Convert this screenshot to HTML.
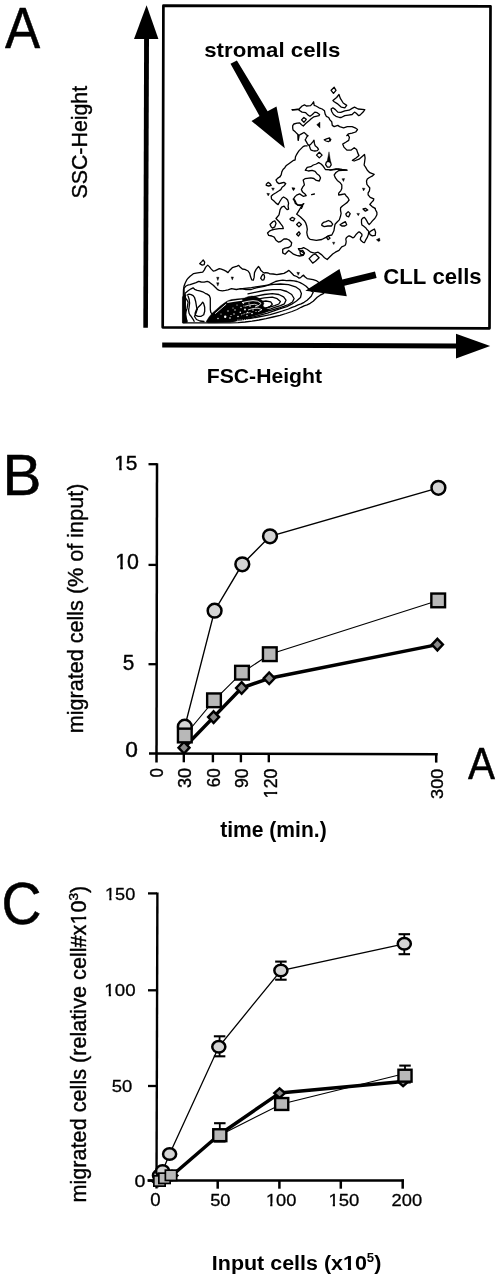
<!DOCTYPE html>
<html><head><meta charset="utf-8"><title>Figure</title>
<style>
html,body{margin:0;padding:0;background:#fff;}
body{width:496px;height:1280px;overflow:hidden;}
svg{display:block;}
text{font-family:"Liberation Sans", Arial, Helvetica, sans-serif;fill:#000;font-kerning:none;}
</style></head><body>
<svg width="496" height="1280" viewBox="0 0 496 1280">
<rect width="496" height="1280" fill="#fff"/>
<g id="contours"><g fill="#000" stroke="#000" stroke-width="0.4" stroke-linejoin="round"><polygon points="316.7,124.7 320.0,122.0 320.0,128.1"/><polygon points="327.0,161.9 329.0,151.8 330.7,161.9"/><polygon points="341.9,178.8 344.6,178.5 343.5,181.5"/><polygon points="362.4,188.0 365.1,188.4 363.5,190.9"/><polygon points="329.1,138.7 331.3,139.1 330.2,141.4"/><polygon points="291.9,187.7 294.7,188.0 293.3,190.4"/><polygon points="271.6,187.9 274.4,188.2 273.0,190.6"/><polygon points="266.8,193.3 269.6,193.6 268.2,196.0"/><polygon points="292.2,187.9 295.0,188.2 293.6,190.6"/><polygon points="356.8,213.4 359.5,213.4 358.3,215.8"/><polygon points="376.3,239.7 379.5,238.1 380.1,240.8 378.5,241.6"/><polygon points="332.5,242.2 334.9,242.2 333.7,244.6"/><polygon points="206.0,321.8 209.0,317.0 212.1,313.2 216.1,309.7 220.2,306.1 224.2,303.1 227.2,301.1 231.3,299.6 235.3,299.1 240.3,298.6 244.4,298.1 248.4,296.6 252.0,296.0 256.0,296.8 259.0,298.2 262.0,300.3 264.0,303.0 263.0,306.0 266.0,308.5 269.0,310.5 264.0,313.0 258.0,314.8 250.0,317.2 244.0,319.0 238.0,320.8 230.0,322.2 215.0,322.8 208.0,322.8"/><polygon points="182.4,297.0 184.6,294.5 185.6,300.0 185.2,308.0 185.8,315.0 187.2,322.6 182.4,322.9"/><polygon points="216.6,277.2 219.0,277.3 217.8,280.6"/><polygon points="216.6,282.7 219.0,282.8 217.8,286.1"/><polygon points="231.1,276.9 233.5,277.0 232.3,280.1"/><polygon points="296.8,272.3 299.6,272.6 298.2,275.3"/></g><g fill="none" stroke="#000" stroke-width="1.3" stroke-linejoin="round" stroke-linecap="round"><polyline points="292.4,110.0 299.1,109.0 302.1,106.0 304.5,104.8 306.3,106.0 310.6,105.6 312.4,103.6 313.6,101.8 314.2,105.4 316.0,106.0 319.0,107.8 322.1,109.0 324.5,110.8 325.1,113.9 326.3,116.3 328.7,117.5 329.9,119.9 331.7,121.7 332.3,125.4 334.2,126.6 337.8,125.4 339.6,126.6 343.6,127.8 347.3,126.6 352.1,126.6 355.1,127.8 357.5,129.6 355.7,132.0 352.1,133.2 348.5,133.8 346.7,135.6 348.1,135.0 349.4,137.4 348.7,140.4 345.7,142.3 342.7,144.1 343.9,147.1 346.9,150.1 351.2,150.1 354.2,147.7 356.6,149.5 357.8,153.1 359.0,155.6 356.0,158.0 352.4,160.4 354.2,161.0 359.0,159.2 364.5,154.4 365.1,158.0 364.6,162.0 364.1,165.0 365.7,167.4 367.3,170.2 369.8,172.7 374.2,174.3 372.6,175.9 369.4,177.5 367.3,179.1 366.5,181.1 366.9,184.4 368.5,186.4 369.8,188.0 369.4,190.8 368.1,192.8 368.1,194.8 370.2,197.3 373.8,198.9 373.4,200.5 371.8,202.1 369.8,204.5 372.1,206.6 375.1,208.4"/><polyline points="292.0,109.6 299.1,109.6"/><polyline points="299.1,110.2 302.1,112.1 305.7,112.7 308.1,115.1 310.0,116.3 312.4,114.5 314.8,112.1 317.2,112.7 319.6,114.5 319.0,115.7 316.0,116.3 313.6,116.9 311.2,118.7 308.7,121.1 305.7,123.5 303.3,126.0 301.5,124.8 299.7,122.9 297.1,123.2 293.9,124.0 292.7,125.6 292.7,128.1 293.1,130.1 295.5,132.1 297.9,134.5 298.3,140.2 299.1,135.3 301.1,134.1 304.0,132.5 305.6,133.7 306.4,134.9 308.0,135.7 306.8,136.9 306.0,138.5 305.2,139.8 306.4,141.8 307.2,143.4 308.0,144.6 309.2,145.4"/><polyline points="298.3,134.8 298.3,140.2"/><polygon points="301.5,119.9 303.9,117.5 306.3,119.3 303.9,122.3"/><polygon points="331.1,90.3 334.2,87.3 336.0,90.3 333.5,93.3"/><polygon points="332.9,100.6 336.6,97.5 339.0,94.5 340.2,98.1 343.2,103.0 346.7,105.4 344.8,107.8 341.4,107.2 337.2,103.6 334.2,101.8"/><polygon points="331.1,109.0 332.9,107.8 335.4,109.6 337.8,112.1 340.8,112.4 344.8,110.8 349.1,110.2 352.1,108.4 354.5,107.2 358.1,109.0 364.8,109.6 363.6,111.5 360.0,115.1 358.7,115.7 356.3,113.3 354.5,112.1 352.1,114.5 348.5,115.1 344.8,115.7 341.2,117.5 339.6,117.5 336.0,116.3 333.5,114.5 331.7,111.5"/><polygon points="309.2,145.4 310.8,144.2 312.8,141.8 314.0,140.2 314.4,143.4 315.2,145.8 317.3,147.4 318.5,149.4 317.3,150.6 314.8,151.0 312.8,150.6 311.2,150.2 310.4,149.0 309.6,146.6"/><polyline points="307.2,145.8 304.8,145.8 303.1,146.6 301.1,148.6 299.1,150.6 297.9,152.3 296.7,154.3 295.5,156.7 295.1,160.0 293.3,160.4 290.9,162.2 288.5,164.0 286.0,165.8 284.8,167.7 283.0,169.5 281.8,171.9 281.2,174.9 280.0,176.7"/><polygon points="316.5,155.1 319.3,152.3 322.1,155.1 319.3,157.9"/><polyline points="305.4,170.1 307.2,167.4 310.8,166.7 313.3,165.0 316.3,164.0 318.7,162.6 321.1,164.0 322.9,165.8 324.2,167.7 325.4,169.5 330.8,169.8 336.2,168.9 340.0,169.6 346.9,170.1"/><polyline points="330.0,170.1 334.8,169.5 338.5,168.9 342.1,169.5 346.9,170.1 338.5,170.7 336.0,172.5 334.2,174.9 335.4,177.9 337.3,180.4 339.9,182.4 341.8,184.8 341.8,188.5 340.9,190.6 338.7,193.1 338.7,195.1 341.7,194.5 344.8,193.9 346.0,195.7 347.8,197.5 349.1,200.0 347.3,202.4 344.8,204.2 342.4,206.0 340.6,207.8 340.5,210.2 341.1,213.3 340.5,216.3 339.3,219.9 336.9,222.3 335.1,224.2 334.5,227.2 333.9,230.8 332.7,233.2 331.8,235.0 328.1,235.9 325.4,237.7 321.8,239.5 316.3,240.4 313.3,239.9 310.3,239.4 308.3,237.8 307.3,235.3 306.8,232.3 307.3,229.3 306.8,226.3 305.8,223.2 304.3,220.7 302.3,218.7 300.2,216.7 298.2,215.2 296.7,214.2 297.7,212.6 299.2,210.1 300.7,207.6 302.3,205.6 303.8,203.6 302.3,204.6 300.2,205.6 297.7,205.1 296.2,203.1 294.7,200.0 293.2,199.0"/><polyline points="305.4,170.1 308.4,171.0 312.1,170.3 315.1,171.3 316.9,173.7 319.3,175.5 320.5,177.9 319.3,181.0 316.3,180.4 313.9,178.5 310.8,177.9 307.2,178.3 305.0,178.7 303.2,180.0 303.8,182.4 304.4,184.8 302.6,187.2 301.4,189.6 302.6,192.1 305.0,193.9 306.2,195.7 303.2,196.3 299.6,193.9 296.6,195.1 294.8,196.9 293.5,199.3 294.8,201.7 295.4,203.5 297.2,204.8 300.8,204.8 302.6,206.0 301.4,208.4"/><polygon points="325.6,164.6 326.4,162.0 328.4,161.2 330.6,162.4 331.2,164.8 329.8,167.0 327.4,167.2"/><polygon points="324.2,139.8 327.2,138.6 329.6,138.0 330.2,140.4 328.4,141.7 326.0,141.0"/><polyline points="311.6,194.6 314.4,194.0"/><polyline points="280.0,176.7 277.8,178.1 276.0,180.0 277.2,182.4 279.0,183.6 281.5,183.0 283.9,182.4 285.7,183.6 284.5,185.4 282.1,187.2 280.8,189.6 279.0,190.8 276.0,192.7 273.0,194.5 271.2,196.3 271.5,199.0 274.0,201.0 276.0,203.1 278.1,204.6 280.1,201.0 282.1,198.0 283.6,197.0 286.1,198.5 287.6,200.0 288.6,203.1 288.1,206.1 288.6,209.1 287.1,209.6 285.6,208.1 284.1,206.1 281.6,207.1 280.1,209.6 279.6,212.1 279.0,214.8 276.0,218.5 277.2,219.7 279.0,221.5 280.8,223.9 282.7,226.3 283.3,228.7 279.0,228.7 274.2,229.4 271.8,230.0 269.4,231.2 267.5,233.0 268.7,235.4 271.8,236.0 274.2,237.2 276.0,240.2 278.4,242.1 280.8,241.5 283.9,239.0 286.9,239.0 289.3,240.2 291.7,242.7 291.1,245.7 288.7,247.5 285.1,248.1 282.7,249.3 282.7,252.9 285.1,254.2 286.9,252.3 288.7,250.5 291.1,252.3 293.5,254.2 296.6,255.4 299.6,256.0 303.2,255.4 304.4,253.5 302.0,251.7 299.0,249.9 298.4,248.7 301.4,248.7 303.6,247.7 307.3,249.5 310.9,252.2 314.5,253.1 318.1,252.2 321.8,254.9 324.5,257.7 327.2,259.5 329.9,256.8 332.7,254.0 335.4,252.2 339.0,250.4 341.7,246.8 345.0,245.5 345.8,243.9 346.2,241.5 345.8,239.0 346.6,237.4 348.2,236.2 349.4,235.8 351.0,236.6 352.7,237.8 353.9,237.4 355.1,235.8 356.3,234.2 357.9,232.6 359.1,231.8 360.3,232.6 361.9,234.2 361.9,235.8 360.7,237.4 360.3,239.4 361.5,241.0 363.1,242.3 364.4,242.7 365.6,240.2 366.8,238.2 367.6,236.6 368.4,234.2 368.8,231.4 367.2,229.8 365.6,227.7 363.5,226.1 361.9,224.9 361.5,222.9 361.5,219.7 362.7,218.1 364.4,217.3 365.6,218.9 366.8,220.9 368.0,223.3 369.2,224.5 370.8,222.9 372.4,220.9 374.0,219.3 375.6,217.3 376.9,214.8 376.9,212.4 375.6,210.0 375.1,208.4"/><polygon points="266.3,184.2 268.1,182.4 270.0,183.6 271.2,185.4 268.7,186.0 266.3,185.4"/><polygon points="321.8,224.2 323.6,222.3 326.0,221.7 328.4,220.5 330.8,221.7 332.7,224.2 331.5,226.0 327.8,226.0 324.2,226.6 321.8,225.4"/><polygon points="345.8,214.0 348.2,211.6 350.2,213.6 348.6,216.9 346.6,216.0"/><polygon points="340.0,224.8 343.0,222.9 345.4,221.7 346.7,224.8 344.8,226.0 341.8,226.0"/><polygon points="363.0,209.0 365.4,208.4 367.8,210.0 365.4,211.2"/><polygon points="369.2,232.6 371.6,230.6 374.4,229.0 375.6,232.2 375.2,235.4 372.4,235.8 370.0,234.6"/><polygon points="289.9,219.1 292.3,217.3 294.8,218.5 293.5,220.9 291.1,220.3"/><polygon points="296.6,224.5 299.0,222.1 301.4,224.5 299.0,226.9"/><polygon points="296.6,234.2 299.0,231.8 300.2,233.6 298.4,236.0"/><polygon points="270.0,224.5 273.0,221.5 274.8,220.9 276.0,223.3 274.8,226.9 272.4,228.1 271.2,226.9"/><polygon points="326.3,237.2 328.5,236.4 330.0,238.2 328.0,239.6"/><polygon points="300.0,251.6 302.7,250.4 304.5,253.1 302.7,254.9 300.4,254.2"/><polygon points="309.1,258.6 312.7,255.0 315.4,254.0 319.1,257.7 315.4,261.3 312.7,263.1"/><polyline points="183.1,322.8 183.1,314.5 183.1,303.2 183.3,295.0 183.5,289.3 184.0,286.3 185.1,283.2 186.6,280.2 188.1,278.2 190.1,276.2 192.1,274.7 193.6,273.6 196.1,273.1 199.2,272.6 202.7,272.1 204.2,270.1 205.7,267.1 207.7,265.1 209.3,266.6 211.3,269.1 213.3,271.1 215.3,270.6 217.3,269.6 219.3,268.6 221.3,269.1 223.9,270.1 225.9,271.1 228.0,272.6 229.8,270.2 232.3,267.7 234.7,266.9 237.1,266.1 238.7,265.3 240.0,266.9 242.4,269.0 244.8,269.4 248.1,271.0 249.7,273.4 250.5,276.6 251.7,279.8 253.3,280.2 254.1,277.4 254.5,272.6 256.1,269.4 258.5,266.5 259.8,268.1 261.0,270.6 263.0,272.2 264.2,273.0 265.8,272.6 268.2,273.0 269.8,273.8 273.1,274.0 276.8,274.7 280.4,274.0 284.0,273.4 287.1,271.6 288.9,270.4 291.3,272.8 293.7,275.3 296.7,276.5 299.1,278.1 300.6,277.6 302.1,276.1 303.6,275.1 305.1,277.1 307.1,278.6 310.2,279.1 313.2,279.6 316.2,280.6 318.2,282.1 322.0,285.0 326.0,290.0 323.3,293.7 320.2,295.2 317.2,297.3 315.2,299.3 313.2,301.3 310.2,303.3 307.1,304.8 304.1,305.8 301.1,307.3 297.0,309.5 292.0,311.5 286.0,313.5 280.0,315.3 273.0,317.0 266.0,318.6 259.0,320.0 252.0,321.2 245.0,322.0 238.0,322.6 230.0,322.8 183.1,322.8"/><polygon points="199.7,263.6 201.7,261.6 203.2,260.0 204.7,262.1 204.2,264.6 202.2,265.1"/><polygon points="260.6,278.2 261.8,275.8 263.0,274.2 264.2,275.0 264.6,277.4 263.8,279.8 262.2,280.2"/><polyline points="184.0,322.5 184.2,310.0 184.2,295.0 184.0,288.3 185.6,286.3 187.6,285.2 190.1,284.7 193.1,283.7 196.1,282.7 198.7,281.4 201.2,282.0 204.2,282.2 207.2,281.4 209.3,282.2 211.3,283.7 213.3,285.2 215.3,287.3 217.3,289.3 219.3,290.3 222.4,290.8 225.4,290.3 228.0,289.8 231.5,288.7 236.3,289.5 241.1,288.7 246.0,289.5 251.3,289.5 256.1,287.9 260.2,287.1 264.2,286.3 268.2,285.1 272.3,283.1 275.5,281.5 279.2,280.7 282.8,280.1 286.5,280.7 290.0,280.5 294.0,280.8 297.1,281.5 300.1,282.6 303.1,284.2 306.1,286.2 308.1,288.2 310.0,290.0 313.2,292.2 312.2,294.2 311.2,296.3 309.2,298.3 307.1,300.3 304.1,302.3 301.1,303.8 298.1,304.8 295.0,306.3 292.0,307.3 288.4,309.0 282.3,311.0 276.3,312.8 270.2,314.6 264.2,315.8 258.1,317.0 252.1,318.2 246.0,319.2 240.0,320.0"/><polyline points="185.5,322.0 185.3,305.0 185.1,293.3 188.1,290.8 191.1,288.8 193.1,287.8 194.6,289.3 197.2,290.3 199.7,290.8 202.7,291.8 205.2,293.3 207.2,294.1 209.3,295.6 210.3,298.2 210.3,302.2 210.3,306.2 210.3,309.3 210.8,312.3 212.0,314.0"/><polyline points="240.0,288.8 251.4,287.6 259.4,286.4 267.5,285.2 273.9,284.4 280.4,284.0 288.5,284.6 295.5,286.8 299.8,289.8 301.4,293.5 300.5,297.5 296.5,301.0 291.7,304.2 286.8,306.6 280.4,308.6 273.9,310.8 267.5,313.1 261.0,314.9 254.6,316.6 248.1,318.2 240.1,319.7 232.0,321.3"/><polyline points="248.0,293.8 256.2,292.1 264.3,290.5 272.3,289.7 280.4,289.7 286.8,291.5 291.7,294.5 294.1,298.5 292.5,302.0 288.5,304.5 283.6,306.4 278.8,308.0 272.3,309.8 265.9,311.6 258.0,313.5 250.0,315.5"/><polyline points="252.0,297.0 256.2,296.1 264.3,294.5 272.3,293.7 278.8,294.5 283.6,296.9 286.0,300.2 284.4,303.8 280.4,305.6 275.5,307.2 270.7,308.8 264.0,310.5"/><polyline points="256.2,299.4 264.3,297.9 272.3,297.2 277.2,298.7 280.4,301.6 278.8,304.0 274.7,305.6 268.0,307.5 262.0,309.0"/><polyline points="259.4,301.8 265.9,301.0 270.7,301.8 272.3,304.2 269.9,306.6 265.9,308.2"/><polyline points="187.1,295.1 189.1,294.1 191.1,294.6 193.1,295.6 194.6,297.7 195.6,301.2 196.1,304.2 196.6,307.2 197.2,309.3"/><polygon points="195.1,313.3 196.6,309.3 198.7,306.7 201.2,304.2 202.7,302.2 203.7,303.7 204.7,307.2 204.7,311.3 203.7,314.8 201.2,316.3 198.2,316.3 195.6,315.3"/><polyline points="185.1,295.1 185.6,298.2 187.1,300.2 188.1,302.2 187.6,305.2 187.1,308.2 186.1,311.3 185.6,314.3 186.1,318.3 187.1,321.3"/><polyline points="188.1,296.1 189.1,299.2 189.6,303.2 189.1,307.2 188.6,310.3 189.1,313.3 190.1,315.3 191.1,316.3 192.1,317.8 193.1,319.3 194.1,321.3"/><polyline points="197.2,309.3 196.0,313.0 194.5,316.5 196.5,319.5 200.0,321.0 204.0,321.5"/></g><polyline points="242,302.6 248,301.3 253,300.6 257.5,301.2 261,303.2 259,305.5 255,307" fill="none" stroke="#fff" stroke-width="0.9"/><polyline points="245,306.2 250,304.8 254.5,304.3 257.8,305.3" fill="none" stroke="#fff" stroke-width="0.8"/><polyline points="248,310 253,308.5 258,308.2 262,309.6 258,311.8" fill="none" stroke="#fff" stroke-width="0.8"/><polyline points="241,315 246,313.2 251,312.5" fill="none" stroke="#fff" stroke-width="0.7" stroke-dasharray="1.5,1"/><line x1="215.1" y1="313.7" x2="226.2" y2="304.1" stroke="#fff" stroke-width="0.9"/><polyline points="227.2,302.4 233,301.3 238,300.6 242.3,300.2" fill="none" stroke="#fff" stroke-width="1.3"/><polyline points="237.3,320.2 240,320.1 243,320.0 246,319.8 250,319.4" fill="none" stroke="#fff" stroke-width="0.8" stroke-dasharray="1.2,1"/><circle cx="225.2" cy="316.7" r="1.2" fill="#fff"/><circle cx="243.3" cy="303.1" r="0.8" fill="#fff"/><circle cx="240.3" cy="312.2" r="0.8" fill="#fff"/><circle cx="245" cy="309.5" r="0.9" fill="#fff"/><circle cx="247.5" cy="312.5" r="0.7" fill="#fff"/><circle cx="235" cy="310" r="0.7" fill="#fff"/><circle cx="231" cy="315.5" r="0.6" fill="#fff"/><circle cx="250" cy="306" r="0.8" fill="#fff"/><circle cx="253" cy="310" r="0.7" fill="#fff"/><circle cx="244" cy="306" r="0.6" fill="#fff"/><circle cx="249" cy="303" r="0.6" fill="#fff"/><circle cx="230" cy="318" r="0.8" fill="#fff"/><circle cx="234" cy="314" r="0.7" fill="#fff"/><circle cx="238" cy="316.5" r="0.8" fill="#fff"/><circle cx="247" cy="315.5" r="0.7" fill="#fff"/><circle cx="252" cy="313.5" r="0.8" fill="#fff"/><circle cx="241" cy="307.5" r="0.7" fill="#fff"/><circle cx="237" cy="305" r="0.6" fill="#fff"/><circle cx="228" cy="311" r="0.7" fill="#fff"/><circle cx="221" cy="314" r="0.6" fill="#fff"/><circle cx="233" cy="308" r="0.6" fill="#fff"/><circle cx="218" cy="318.5" r="0.7" fill="#fff"/><circle cx="256" cy="311.5" r="0.6" fill="#fff"/></g>
<g id="panelA"><polygon points="163.4,5.7 490.5,6.3 489.5,328.3 162.7,327.3" fill="none" stroke="#000" stroke-width="2.7" stroke-linejoin="round"/><polygon points="144.1,38.5 149.0,38.5 147.9,327.8 143.3,327.8" fill="#000"/><polygon points="146.6,5.2 134.0,38.9 158.4,38.9" fill="#000"/><polygon points="162.2,342.4 456.5,343.6 456.5,348.4 162.2,347.6" fill="#000"/><polygon points="456.0,333.8 490.2,346.0 456.0,358.4" fill="#000"/><polygon points="230.5,63.7 236.9,60.5 267.6,111.3 276.5,106.5 284.8,148.2 251.5,121.0 259.5,116.0" fill="#000"/><polygon points="375.0,271.6 376.6,278.1 344.4,285.8 346.8,296.3 305.3,290.7 339.5,268.9 342.3,279.4" fill="#000"/></g>
<g id="panelB"><line x1="157" y1="463.3" x2="156.5" y2="762.5" stroke="#000" stroke-width="2.5"/><line x1="148.5" y1="464.2" x2="157" y2="464.2" stroke="#000" stroke-width="2.3"/><line x1="148.5" y1="564.9" x2="157" y2="564.9" stroke="#000" stroke-width="2.3"/><line x1="148.5" y1="664.2" x2="157" y2="664.2" stroke="#000" stroke-width="2.3"/><line x1="149" y1="753.5" x2="437.6" y2="754.3" stroke="#000" stroke-width="2.6"/><line x1="183.8" y1="754" x2="183.8" y2="762.3" stroke="#000" stroke-width="2.4"/><line x1="212.9" y1="754" x2="212.9" y2="762.3" stroke="#000" stroke-width="2.4"/><line x1="240.9" y1="754" x2="240.9" y2="762.3" stroke="#000" stroke-width="2.4"/><line x1="268.8" y1="754" x2="268.8" y2="762.3" stroke="#000" stroke-width="2.4"/><line x1="436.2" y1="753" x2="436.2" y2="762.6" stroke="#000" stroke-width="2.5"/><polyline points="184.8,726.7 214.6,610.7 242.3,564.3 270.0,536.3 438.4,487.8" fill="none" stroke="#000" stroke-width="1.4"/><polyline points="184.8,735.5 214.0,700.3 242.0,672.7 269.8,654.2 438.2,600.4" fill="none" stroke="#000" stroke-width="1.1"/><polyline points="184.0,747.7 213.6,717.1 241.6,688.0 269.2,678.3 437.4,644.6" fill="none" stroke="#000" stroke-width="3.5" stroke-linejoin="round"/><circle cx="184.8" cy="726.7" r="6.9" fill="#d4d4d4" stroke="#000" stroke-width="2.5"/><circle cx="214.6" cy="610.7" r="6.9" fill="#d4d4d4" stroke="#000" stroke-width="2.5"/><circle cx="242.3" cy="564.3" r="6.9" fill="#d4d4d4" stroke="#000" stroke-width="2.5"/><circle cx="270" cy="536.3" r="6.9" fill="#d4d4d4" stroke="#000" stroke-width="2.5"/><circle cx="438.4" cy="487.8" r="6.9" fill="#d4d4d4" stroke="#000" stroke-width="2.5"/><polygon points="184.0,741.9 189.5,747.7 184.0,753.5 178.5,747.7" fill="#8a8a8a" stroke="#000" stroke-width="2.4" stroke-linejoin="miter"/><polygon points="213.6,711.3 219.1,717.1 213.6,722.9 208.1,717.1" fill="#8a8a8a" stroke="#000" stroke-width="2.4" stroke-linejoin="miter"/><polygon points="241.6,682.2 247.1,688.0 241.6,693.8 236.1,688.0" fill="#8a8a8a" stroke="#000" stroke-width="2.4" stroke-linejoin="miter"/><polygon points="269.2,672.5 274.7,678.3 269.2,684.1 263.7,678.3" fill="#8a8a8a" stroke="#000" stroke-width="2.4" stroke-linejoin="miter"/><polygon points="437.4,638.8 442.9,644.6 437.4,650.4 431.9,644.6" fill="#8a8a8a" stroke="#000" stroke-width="2.4" stroke-linejoin="miter"/><rect x="177.95" y="728.65" width="13.7" height="13.7" fill="#b8b8b8" stroke="#000" stroke-width="2.4"/><rect x="207.15" y="693.45" width="13.7" height="13.7" fill="#b8b8b8" stroke="#000" stroke-width="2.4"/><rect x="235.15" y="665.85" width="13.7" height="13.7" fill="#b8b8b8" stroke="#000" stroke-width="2.4"/><rect x="262.95" y="647.35" width="13.7" height="13.7" fill="#b8b8b8" stroke="#000" stroke-width="2.4"/><rect x="431.35" y="593.55" width="13.7" height="13.7" fill="#b8b8b8" stroke="#000" stroke-width="2.4"/></g>
<g id="panelC"><line x1="157.4" y1="892.4" x2="156.5" y2="1188.5" stroke="#000" stroke-width="2.4"/><line x1="148" y1="893.4" x2="157" y2="893.4" stroke="#000" stroke-width="2.3"/><line x1="148" y1="990.3" x2="157" y2="990.3" stroke="#000" stroke-width="2.3"/><line x1="148" y1="1086" x2="157" y2="1086" stroke="#000" stroke-width="2.3"/><line x1="148" y1="1180.6" x2="157" y2="1180.6" stroke="#000" stroke-width="2.3"/><line x1="147.5" y1="1180.6" x2="404" y2="1180.6" stroke="#000" stroke-width="2.5"/><line x1="217.7" y1="1180.6" x2="217.7" y2="1188.7" stroke="#000" stroke-width="2.5"/><line x1="279.4" y1="1180.6" x2="279.4" y2="1188.7" stroke="#000" stroke-width="2.5"/><line x1="340.8" y1="1180.6" x2="340.8" y2="1188.7" stroke="#000" stroke-width="2.5"/><line x1="402.7" y1="1179.5" x2="402.7" y2="1188.7" stroke="#000" stroke-width="2.5"/><polyline points="159.5,1175.5 162.6,1171.0 169.6,1154.1 218.8,1046.8 280.9,970.5 404.3,943.8" fill="none" stroke="#000" stroke-width="1.3"/><polyline points="159.5,1181.0 164.5,1178.3 171.0,1175.3 219.8,1135.2 281.7,1104.0 405.0,1073.5" fill="none" stroke="#000" stroke-width="1.1"/><polyline points="158.0,1181.5 162.0,1179.0 172.0,1175.5 219.5,1134.5 279.6,1093.1 403.1,1081.4" fill="none" stroke="#000" stroke-width="3.5" stroke-linejoin="round"/><line x1="219.6" y1="1036.3" x2="219.6" y2="1056.3" stroke="#000" stroke-width="1.8"/><line x1="213.85" y1="1036.3" x2="225.35" y2="1036.3" stroke="#000" stroke-width="2.1"/><line x1="213.85" y1="1056.3" x2="225.35" y2="1056.3" stroke="#000" stroke-width="2.1"/><line x1="280.9" y1="961.6" x2="280.9" y2="979.7" stroke="#000" stroke-width="1.8"/><line x1="275.15" y1="961.6" x2="286.65" y2="961.6" stroke="#000" stroke-width="2.1"/><line x1="275.15" y1="979.7" x2="286.65" y2="979.7" stroke="#000" stroke-width="2.1"/><line x1="404.3" y1="934.2" x2="404.3" y2="954.2" stroke="#000" stroke-width="1.8"/><line x1="398.55" y1="934.2" x2="410.05" y2="934.2" stroke="#000" stroke-width="2.1"/><line x1="398.55" y1="954.2" x2="410.05" y2="954.2" stroke="#000" stroke-width="2.1"/><line x1="219.8" y1="1123.2" x2="219.8" y2="1141.5" stroke="#000" stroke-width="1.8"/><line x1="214.05" y1="1123.2" x2="225.55" y2="1123.2" stroke="#000" stroke-width="2.1"/><line x1="214.05" y1="1141.5" x2="225.55" y2="1141.5" stroke="#000" stroke-width="2.1"/><line x1="405" y1="1065.6" x2="405" y2="1082.5" stroke="#000" stroke-width="1.8"/><line x1="399.25" y1="1065.6" x2="410.75" y2="1065.6" stroke="#000" stroke-width="2.1"/><line x1="399.25" y1="1082.5" x2="410.75" y2="1082.5" stroke="#000" stroke-width="2.1"/><ellipse cx="159.5" cy="1175.5" rx="6.55" ry="5.75" fill="#d4d4d4" stroke="#000" stroke-width="2.5"/><ellipse cx="162.6" cy="1171" rx="6.55" ry="5.75" fill="#d4d4d4" stroke="#000" stroke-width="2.5"/><ellipse cx="169.6" cy="1154.1" rx="6.55" ry="5.75" fill="#d4d4d4" stroke="#000" stroke-width="2.5"/><ellipse cx="218.8" cy="1046.8" rx="6.55" ry="5.75" fill="#d4d4d4" stroke="#000" stroke-width="2.5"/><ellipse cx="280.9" cy="970.5" rx="6.55" ry="5.75" fill="#d4d4d4" stroke="#000" stroke-width="2.5"/><ellipse cx="404.3" cy="943.8" rx="6.55" ry="5.75" fill="#d4d4d4" stroke="#000" stroke-width="2.5"/><polygon points="158.0,1176.8 163.3,1181.5 158.0,1186.2 152.7,1181.5" fill="#8a8a8a" stroke="#000" stroke-width="2.4" stroke-linejoin="miter"/><polygon points="162.0,1174.3 167.3,1179.0 162.0,1183.7 156.7,1179.0" fill="#8a8a8a" stroke="#000" stroke-width="2.4" stroke-linejoin="miter"/><polygon points="172.0,1170.8 177.3,1175.5 172.0,1180.2 166.7,1175.5" fill="#8a8a8a" stroke="#000" stroke-width="2.4" stroke-linejoin="miter"/><polygon points="219.5,1129.8 224.8,1134.5 219.5,1139.2 214.2,1134.5" fill="#8a8a8a" stroke="#000" stroke-width="2.4" stroke-linejoin="miter"/><polygon points="279.6,1088.4 284.9,1093.1 279.6,1097.8 274.3,1093.1" fill="#8a8a8a" stroke="#000" stroke-width="2.4" stroke-linejoin="miter"/><polygon points="403.1,1076.7 408.4,1081.4 403.1,1086.1 397.8,1081.4" fill="#8a8a8a" stroke="#000" stroke-width="2.4" stroke-linejoin="miter"/><rect x="153.85" y="1175.85" width="11.3" height="10.3" fill="#b8b8b8" stroke="#000" stroke-width="1.7"/><rect x="158.85" y="1173.15" width="11.3" height="10.3" fill="#b8b8b8" stroke="#000" stroke-width="1.7"/><rect x="165.35" y="1170.15" width="11.3" height="10.3" fill="#b8b8b8" stroke="#000" stroke-width="1.7"/><rect x="213.25" y="1129.25" width="13.1" height="11.9" fill="#b8b8b8" stroke="#000" stroke-width="2.4"/><rect x="275.15" y="1098.05" width="13.1" height="11.9" fill="#b8b8b8" stroke="#000" stroke-width="2.4"/><rect x="398.45" y="1069.75" width="13.1" height="11.9" fill="#b8b8b8" stroke="#000" stroke-width="2.4"/></g>
<g id="texts"><text transform="matrix(0.9263,0.0000,0.0000,0.9962,5.1000,47.5509)" font-size="57" font-weight="normal" stroke="#000" stroke-width="0.5" stroke-linejoin="round">A</text><text transform="matrix(1.0358,0.0000,0.0000,0.9714,204.2231,56.5571)" font-size="21.5" font-weight="bold">stromal cells</text><text transform="matrix(0.0000,-0.9492,0.9553,0.0000,86.7624,198.5119)" font-size="22.5" font-weight="normal" stroke="#000" stroke-width="0.4" stroke-linejoin="round">SSC-Height</text><text transform="matrix(1.0304,0.0000,0.0000,1.0413,383.1696,284.2397)" font-size="21.5" font-weight="bold">CLL cells</text><text transform="matrix(0.9857,0.0000,0.0000,0.9700,206.7215,383.2350)" font-size="21.5" font-weight="bold">FSC-Height</text><text transform="matrix(1.0244,0.0000,0.0000,0.9987,2.3902,494.5503)" font-size="57" font-weight="normal" stroke="#000" stroke-width="0.5" stroke-linejoin="round">B</text><g transform="matrix(0.9952,0.0000,0.0000,0.9733,114.2583,469.5133)"><text font-size="21" font-weight="normal" stroke="#000" stroke-width="0.4" stroke-linejoin="round">15</text><rect x="0.750" y="-3.269" width="4.181" height="4.969" fill="#fff"/><rect x="7.487" y="-3.269" width="4.017" height="4.969" fill="#fff"/></g><g transform="matrix(1.0190,0.0000,0.0000,1.0361,115.2167,568.9820)"><text font-size="21" font-weight="normal" stroke="#000" stroke-width="0.4" stroke-linejoin="round">10</text><rect x="0.750" y="-3.269" width="4.181" height="4.969" fill="#fff"/><rect x="7.487" y="-3.269" width="4.017" height="4.969" fill="#fff"/></g><text transform="matrix(0.9854,0.0000,0.0000,1.0267,122.7610,669.9867)" font-size="21" font-weight="normal" stroke="#000" stroke-width="0.4" stroke-linejoin="round">5</text><text transform="matrix(1.0829,0.0000,0.0000,1.0557,125.1878,757.3721)" font-size="21" font-weight="normal" stroke="#000" stroke-width="0.4" stroke-linejoin="round">0</text><text transform="matrix(0.0000,-0.9081,0.9811,0.0000,162.8547,777.4541)" font-size="18.5" font-weight="normal" stroke="#000" stroke-width="0.4" stroke-linejoin="round">0</text><text transform="matrix(0.0000,-0.9744,1.0038,0.0000,190.7491,788.0872)" font-size="18.5" font-weight="normal" stroke="#000" stroke-width="0.4" stroke-linejoin="round">30</text><text transform="matrix(0.0000,-0.9195,0.9736,0.0000,219.9566,787.2896)" font-size="18.5" font-weight="normal" stroke="#000" stroke-width="0.4" stroke-linejoin="round">60</text><text transform="matrix(0.0000,-0.9506,1.0113,0.0000,247.6472,787.9130)" font-size="18.5" font-weight="normal" stroke="#000" stroke-width="0.4" stroke-linejoin="round">90</text><g transform="matrix(0.0000,-0.9635,0.9887,0.0000,276.9528,798.2452)"><text font-size="18.5" font-weight="normal" stroke="#000" stroke-width="0.4" stroke-linejoin="round">120</text><rect x="0.559" y="-3.082" width="3.743" height="4.782" fill="#fff"/><rect x="6.637" y="-3.082" width="3.598" height="4.782" fill="#fff"/></g><text transform="matrix(0.0000,-0.9748,0.9358,0.0000,442.7660,798.8874)" font-size="18.5" font-weight="normal" stroke="#000" stroke-width="0.4" stroke-linejoin="round">300</text><text transform="matrix(0.9414,0.0000,0.0000,1.0333,467.9353,778.6417)" font-size="43" font-weight="normal" stroke="#000" stroke-width="0.5" stroke-linejoin="round">A</text><text transform="matrix(0.0000,-1.0055,0.9902,0.0000,82.6963,733.3569)" font-size="21.5" font-weight="normal" stroke="#000" stroke-width="0.4" stroke-linejoin="round">migrated cells (% of input)</text><text transform="matrix(0.9805,0.0000,0.0000,1.0150,220.1549,837.0325)" font-size="21.5" font-weight="bold">time (min.)</text><text transform="matrix(0.9726,0.0000,0.0000,1.0380,1.5253,923.7215)" font-size="57" font-weight="normal" stroke="#000" stroke-width="0.5" stroke-linejoin="round">C</text><g transform="matrix(1.0542,0.0000,0.0000,0.9840,105.0187,899.7540)"><text font-size="17.2" font-weight="normal" stroke="#000" stroke-width="0.3" stroke-linejoin="round">150</text><rect x="0.510" y="-2.985" width="3.515" height="4.685" fill="#fff"/><rect x="6.145" y="-2.985" width="3.381" height="4.685" fill="#fff"/></g><g transform="matrix(1.0879,0.0000,0.0000,0.9840,104.3682,995.8540)"><text font-size="17.2" font-weight="normal" stroke="#000" stroke-width="0.3" stroke-linejoin="round">100</text><rect x="0.510" y="-2.985" width="3.515" height="4.685" fill="#fff"/><rect x="6.145" y="-2.985" width="3.381" height="4.685" fill="#fff"/></g><text transform="matrix(1.0722,0.0000,0.0000,1.0080,111.7639,1092.1480)" font-size="17.2" font-weight="normal" stroke="#000" stroke-width="0.3" stroke-linejoin="round">50</text><text transform="matrix(1.1412,0.0000,0.0000,0.9680,134.4294,1186.6580)" font-size="17.2" font-weight="normal" stroke="#000" stroke-width="0.3" stroke-linejoin="round">0</text><text transform="matrix(1.0824,0.0000,0.0000,1.0160,150.3588,1205.6460)" font-size="17.2" font-weight="normal" stroke="#000" stroke-width="0.3" stroke-linejoin="round">0</text><text transform="matrix(1.0611,0.0000,0.0000,1.0000,210.1694,1205.8500)" font-size="17.2" font-weight="normal" stroke="#000" stroke-width="0.3" stroke-linejoin="round">50</text><g transform="matrix(1.0617,0.0000,0.0000,0.9680,265.9075,1205.6580)"><text font-size="17.2" font-weight="normal" stroke="#000" stroke-width="0.3" stroke-linejoin="round">100</text><rect x="0.510" y="-2.985" width="3.515" height="4.685" fill="#fff"/><rect x="6.145" y="-2.985" width="3.381" height="4.685" fill="#fff"/></g><g transform="matrix(1.0729,0.0000,0.0000,0.9680,328.3907,1205.6580)"><text font-size="17.2" font-weight="normal" stroke="#000" stroke-width="0.3" stroke-linejoin="round">150</text><rect x="0.510" y="-2.985" width="3.515" height="4.685" fill="#fff"/><rect x="6.145" y="-2.985" width="3.381" height="4.685" fill="#fff"/></g><text transform="matrix(1.0655,0.0000,0.0000,0.9520,391.6009,1205.6620)" font-size="17.2" font-weight="normal" stroke="#000" stroke-width="0.3" stroke-linejoin="round">200</text><g transform="matrix(0.0000,-1.0078,1.0023,0.0000,85.6391,1202.5598)"><text font-size="21.5" font-weight="normal" stroke="#000" stroke-width="0.4" stroke-linejoin="round">migrated cells (relative cell#x10<tspan font-size="13.5" dy="-7.4">3</tspan><tspan dy="7.4">)</tspan></text><rect x="276.802" y="-3.306" width="4.269" height="5.006" fill="#fff"/><rect x="283.671" y="-3.306" width="4.101" height="5.006" fill="#fff"/></g><g transform="matrix(1.1005,0.0000,0.0000,1.0469,211.8244,1270.3123)"><text font-size="19.5" font-weight="bold">Input cells (x10<tspan font-size="12" dy="-8">5</tspan><tspan dy="8">)</tspan></text><rect x="119.768" y="-3.690" width="3.823" height="5.390" fill="#fff"/><rect x="126.567" y="-3.690" width="3.575" height="5.390" fill="#fff"/></g></g>
</svg>
</body></html>
